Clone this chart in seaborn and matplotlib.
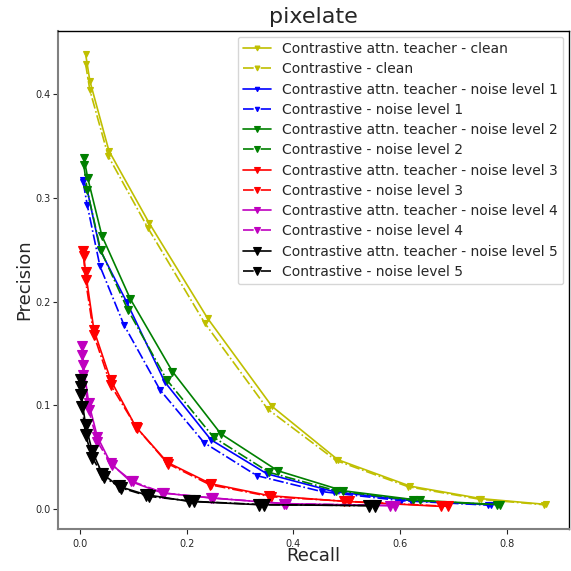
import numpy as np
import pandas as pd
import matplotlib
matplotlib.use("Agg")
import matplotlib.pyplot as plt
import seaborn as sns

sns.set_style("ticks")
plt.rcParams['font.family'] = ['DejaVu Sans']

# ---- data (recall, precision) ----
clean_t_r = [0.0107, 0.0188, 0.0545, 0.1296, 0.2393, 0.3600, 0.4834, 0.6190, 0.7525, 0.8730]
clean_t_p = [0.4393, 0.4129, 0.3455, 0.2761, 0.1840, 0.0990, 0.0475, 0.0220, 0.0099, 0.0044]
clean_c_r = [0.0107, 0.0188, 0.0533, 0.1277, 0.2342, 0.3520, 0.4800, 0.6150, 0.7487, 0.8690]
clean_c_p = [0.4297, 0.4040, 0.3404, 0.2710, 0.1792, 0.0963, 0.0468, 0.0215, 0.0094, 0.0041]

n1_t_r = [0.0064, 0.0139, 0.0380, 0.0877, 0.1590, 0.2455, 0.3506, 0.4764, 0.6210, 0.7699]
n1_t_p = [0.3172, 0.3074, 0.2498, 0.1997, 0.1226, 0.0668, 0.0339, 0.0167, 0.0080, 0.0041]
n1_c_r = [0.0064, 0.0139, 0.0376, 0.0826, 0.1502, 0.2329, 0.3318, 0.4539, 0.6023, 0.7650]
n1_c_p = [0.3150, 0.2931, 0.2344, 0.1776, 0.1149, 0.0639, 0.0321, 0.0167, 0.0080, 0.0037]

n2_t_r = [0.0075, 0.0150, 0.0413, 0.0946, 0.1735, 0.2642, 0.3707, 0.4928, 0.6366, 0.7880]
n2_t_p = [0.3389, 0.3189, 0.2636, 0.2026, 0.1326, 0.0725, 0.0369, 0.0176, 0.0083, 0.0041]
n2_c_r = [0.0075, 0.0139, 0.0389, 0.0901, 0.1628, 0.2505, 0.3549, 0.4802, 0.6242, 0.7807]
n2_c_p = [0.3317, 0.3076, 0.2498, 0.1920, 0.1246, 0.0692, 0.0353, 0.0176, 0.0083, 0.0041]

n3_t_r = [0.0064, 0.0107, 0.0263, 0.0577, 0.1046, 0.1641, 0.2454, 0.3548, 0.4957, 0.6773]
n3_t_p = [0.2486, 0.2289, 0.1727, 0.1245, 0.0795, 0.0449, 0.0243, 0.0128, 0.0073, 0.0025]
n3_c_r = [0.0070, 0.0107, 0.0263, 0.0577, 0.1065, 0.1647, 0.2435, 0.3582, 0.5045, 0.6898]
n3_c_p = [0.2445, 0.2208, 0.1679, 0.1197, 0.0783, 0.0437, 0.0234, 0.0118, 0.0073, 0.0025]

n4_t_r = [0.0045, 0.0064, 0.0167, 0.0327, 0.0577, 0.0950, 0.1547, 0.2454, 0.3831, 0.5803]
n4_t_p = [0.1573, 0.1388, 0.1021, 0.0698, 0.0443, 0.0265, 0.0154, 0.0106, 0.0051, 0.0032]
n4_c_r = [0.0045, 0.0064, 0.0167, 0.0327, 0.0596, 0.0989, 0.1571, 0.2491, 0.3863, 0.5897]
n4_c_p = [0.1487, 0.1291, 0.0954, 0.0650, 0.0424, 0.0265, 0.0154, 0.0106, 0.0051, 0.0032]

n5_t_r = [0.0026, 0.0026, 0.0107, 0.0233, 0.0420, 0.0732, 0.1234, 0.2047, 0.3362, 0.5427]
n5_t_p = [0.1246, 0.1100, 0.0812, 0.0555, 0.0340, 0.0218, 0.0138, 0.0073, 0.0041, 0.0032]
n5_c_r = [0.0026, 0.0045, 0.0107, 0.0233, 0.0445, 0.0764, 0.1296, 0.2141, 0.3455, 0.5521]
n5_c_p = [0.1181, 0.0988, 0.0716, 0.0494, 0.0311, 0.0205, 0.0121, 0.0073, 0.0041, 0.0032]

labels = [
    "Contrastive attn. teacher - clean", "Contrastive - clean",
    "Contrastive attn. teacher - noise level 1", "Contrastive - noise level 1",
    "Contrastive attn. teacher - noise level 2", "Contrastive - noise level 2",
    "Contrastive attn. teacher - noise level 3", "Contrastive - noise level 3",
    "Contrastive attn. teacher - noise level 4", "Contrastive - noise level 4",
    "Contrastive attn. teacher - noise level 5", "Contrastive - noise level 5",
]
recalls = [clean_t_r, clean_c_r, n1_t_r, n1_c_r, n2_t_r, n2_c_r,
           n3_t_r, n3_c_r, n4_t_r, n4_c_r, n5_t_r, n5_c_r]
precisions = [clean_t_p, clean_c_p, n1_t_p, n1_c_p, n2_t_p, n2_c_p,
              n3_t_p, n3_c_p, n4_t_p, n4_c_p, n5_t_p, n5_c_p]
colors = ['y', 'b', 'g', 'r', 'm', 'k']
msizes = [5.0, 4.5, 5.5, 6.5, 7.0, 8.5]

fig = plt.figure(figsize=(5.71, 5.71), dpi=100)
ax = fig.add_axes([58/571, 1-529/571, (569-58)/571, (529-31)/571])

for i, (lab, r, p) in enumerate(zip(labels, recalls, precisions)):
    c = colors[i // 2]
    ls = '-' if i % 2 == 0 else '-.'
    df = pd.DataFrame({'Recall': r, 'Precision': p})
    sns.lineplot(data=df, x='Recall', y='Precision', ax=ax, sort=False, estimator=None,
                 color=c, linestyle=ls, linewidth=1.2, marker='v',
                 markersize=msizes[i // 2], markeredgecolor=c, markerfacecolor=c,
                 markeredgewidth=0.8, label=lab)

ax.set_title('pixelate', fontsize=16)
ax.set_xlabel('Recall', fontsize=13, labelpad=-1)
ax.set_ylabel('Precision', fontsize=13, labelpad=1)
ax.set_xticks([0.0, 0.2, 0.4, 0.6, 0.8])
ax.set_yticks([0.0, 0.1, 0.2, 0.3, 0.4])
ax.tick_params(labelsize=7, length=3.5, width=0.8)
ax.tick_params(axis='y', pad=2)
for s in ['left', 'bottom']:
    ax.spines[s].set_color('0.5')
    ax.spines[s].set_linewidth(1.5)
for s in ['top', 'right']:
    ax.spines[s].set_color('k')
    ax.spines[s].set_linewidth(1.0)
ax.margins(0.05)

leg = ax.legend(loc='upper right', fontsize=10, labelspacing=0.45, handlelength=2.0,
                borderaxespad=0.4, frameon=True, fancybox=True, markerscale=0.7)
leg.get_frame().set_edgecolor('0.8')

fig.savefig('out.png', dpi=100)
